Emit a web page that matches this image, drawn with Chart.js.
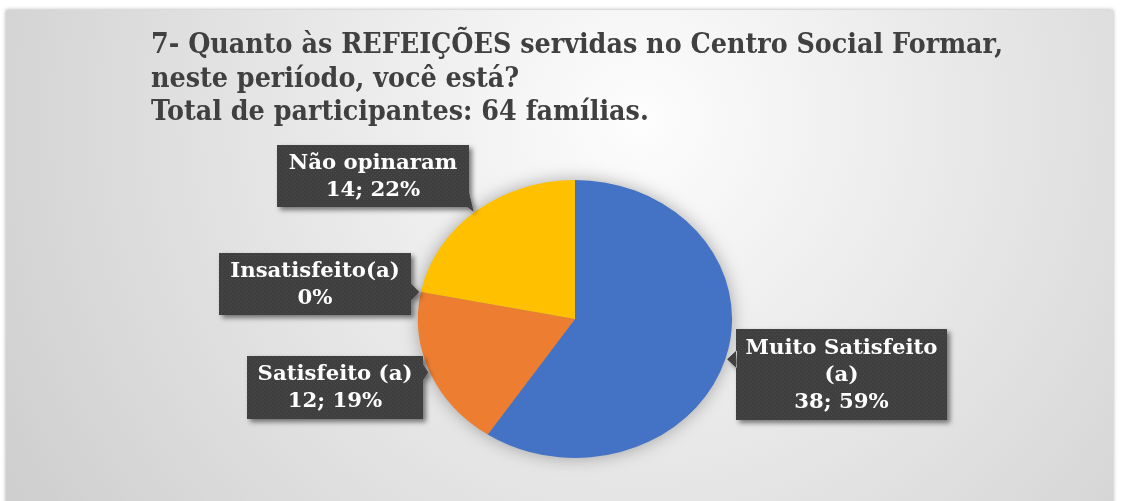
<!DOCTYPE html>
<html>
<head>
<meta charset="utf-8">
<script src="https://cdn.jsdelivr.net/npm/chart.js@4.4.0/dist/chart.umd.min.js"></script>
<style>
    html, body { margin: 0; padding: 0; background: #fff; }
    #wrap { width: 1132px; height: 501px; }
</style>
</head>
<body>
<div id="wrap"><canvas id="myChart" width="1132" height="501"></canvas></div>
<script>
// data
const categories = ['Muito Satisfeito (a)', 'Satisfeito (a)', 'Insatisfeito(a)', 'Não opinaram'];
const counts = [38, 12, 0, 14];
const labelNames = [['Muito Satisfeito', '(a)'], ['Satisfeito (a)'], ['Insatisfeito(a)'], ['Não opinaram']];
const sliceColors = ['#4472C4', '#ED7D31', '#A5A5A5', '#FFC000'];
const titleLines = [
    '7- Quanto às REFEIÇÕES servidas no Centro Social Formar,',
    'neste periíodo, você está?',
    'Total de participantes: 64 famílias.'
];

// layout of the callout boxes (x, y, w, h)
const boxes = [
    { x: 736, y: 329, w: 211, h: 91 },
    { x: 247, y: 356, w: 176, h: 63 },
    { x: 219, y: 253, w: 192, h: 62 },
    { x: 277, y: 145, w: 192, h: 62 }
];
const pieStretch = 1.13; // pie is drawn as an ellipse in the reference
const serif = '"DejaVu Serif"';

const total = counts.reduce((a, b) => a + b, 0);

function dotPattern(ctx) {
    const c = document.createElement('canvas');
    c.width = 4; c.height = 4;
    const p = c.getContext('2d');
    p.fillStyle = '#3f3f3f';
    p.fillRect(0, 0, 4, 4);
    p.fillStyle = '#4b4b4b';
    p.fillRect(1, 1, 1, 1);
    p.fillRect(3, 3, 1, 1);
    return ctx.createPattern(c, 'repeat');
}

const bgPlugin = {
    id: 'bg',
    beforeDraw: function (chart) {
        const ctx = chart.ctx;
        ctx.save();
        ctx.fillStyle = '#ffffff';
        ctx.fillRect(0, 0, chart.width, chart.height);
        const g = ctx.createRadialGradient(640, 120, 0, 640, 120, 720);
        g.addColorStop(0, '#fdfdfd');
        g.addColorStop(1, '#cfcfcf');
        ctx.shadowColor = 'rgba(0,0,0,0.35)';
        ctx.shadowBlur = 4;
        ctx.fillStyle = g;
        ctx.fillRect(6, 10, 1107, 500);
        ctx.restore();

        // title
        ctx.save();
        ctx.fillStyle = '#404040';
        ctx.font = 'bold 27px ' + serif;
        ctx.textBaseline = 'alphabetic';
        const sx = 852 / ctx.measureText(titleLines[0]).width;
        ctx.translate(151, 0);
        ctx.scale(sx, 1);
        const base = [53, 87, 120];
        titleLines.forEach(function (t, i) {
            ctx.fillText(t, 0, base[i]);
        });
        ctx.restore();
    }
};

const ellipsePlugin = {
    id: 'ellipse',
    beforeDatasetsDraw: function (chart) {
        const ctx = chart.ctx;
        const arc = chart.getDatasetMeta(0).data[0];
        ctx.save();
        // soft shadow under the pie
        ctx.save();
        ctx.shadowColor = 'rgba(0,0,0,0.35)';
        ctx.shadowBlur = 18;
        ctx.fillStyle = '#888';
        ctx.beginPath();
        ctx.ellipse(arc.x, arc.y, arc.outerRadius * pieStretch - 1, arc.outerRadius - 1, 0, 0, Math.PI * 2);
        ctx.fill();
        ctx.restore();
        ctx.translate(arc.x, 0);
        ctx.scale(pieStretch, 1);
        ctx.translate(-arc.x, 0);
    },
    afterDatasetsDraw: function (chart) {
        chart.ctx.restore();
    }
};

const calloutPlugin = {
    id: 'callouts',
    afterDraw: function (chart) {
        const ctx = chart.ctx;
        const meta = chart.getDatasetMeta(0);
        const pattern = dotPattern(ctx);
        ctx.save();
        ctx.font = 'bold 20px ' + serif;
        const tx = 192 / ctx.measureText('Muito Satisfeito').width;
        ctx.restore();

        meta.data.forEach(function (arc, i) {
            const b = boxes[i];
            const a = (arc.startAngle + arc.endAngle) / 2;
            const px = arc.x + Math.cos(a) * arc.outerRadius * pieStretch;
            const py = arc.y + Math.sin(a) * arc.outerRadius;

            // box with tail
            const path = new Path2D();
            path.rect(b.x, b.y, b.w, b.h);
            let ey = Math.min(Math.max(py, b.y + 9), b.y + b.h - 9);
            if (px < b.x) {
                path.moveTo(b.x + 1, ey - 9);
                path.lineTo(px + 2, py);
                path.lineTo(b.x + 1, ey + 9);
                path.closePath();
            } else if (px > b.x + b.w) {
                path.moveTo(b.x + b.w - 1, ey - 9);
                path.lineTo(px - 2, py);
                path.lineTo(b.x + b.w - 1, ey + 9);
                path.closePath();
            }
            ctx.save();
            ctx.shadowColor = 'rgba(0,0,0,0.5)';
            ctx.shadowBlur = 5;
            ctx.shadowOffsetX = 3;
            ctx.shadowOffsetY = 3;
            ctx.fillStyle = '#3f3f3f';
            ctx.fill(path);
            ctx.restore();
            ctx.save();
            ctx.fillStyle = pattern;
            ctx.fill(path);
            ctx.restore();

            // text
            const value = counts[i];
            const pct = Math.round(value / total * 100) + '%';
            const lines = labelNames[i].concat([value ? value + '; ' + pct : pct]);
            const lh = 27;
            const cy = b.y + b.h / 2 - (lines.length - 1) * lh / 2;
            ctx.save();
            ctx.fillStyle = '#ffffff';
            ctx.font = 'bold 20px ' + serif;
            ctx.textAlign = 'center';
            ctx.textBaseline = 'middle';
            ctx.translate(b.x + b.w / 2, 0);
            ctx.scale(tx, 1);
            lines.forEach(function (t, j) {
                ctx.fillText(t, 0, cy + j * lh + 1);
            });
            ctx.restore();
        });
    }
};

document.addEventListener('DOMContentLoaded', function () {
    const ctx = document.getElementById('myChart').getContext('2d');

    new Chart(ctx, {
        type: 'pie',
        data: {
            labels: categories,
            datasets: [{
                data: counts,
                backgroundColor: sliceColors,
                borderWidth: 0,
                clip: false
            }]
        },
        options: {
            responsive: false,
            animation: false,
            events: [],
            layout: {
                padding: { top: 180, bottom: 43, left: 436, right: 418 }
            },
            plugins: {
                legend: { display: false },
                tooltip: { enabled: false },
                title: { display: false }
            }
        },
        plugins: [bgPlugin, ellipsePlugin, calloutPlugin]
    });
});
</script>
</body>
</html>
